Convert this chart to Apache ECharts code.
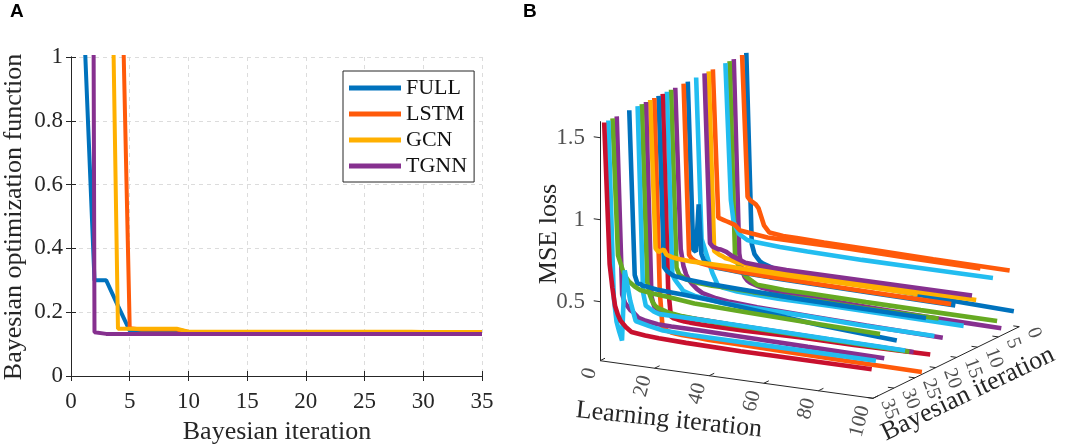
<!DOCTYPE html>
<html><head><meta charset="utf-8">
<script src="https://cdn.jsdelivr.net/npm/echarts@6/dist/echarts.min.js"></script>
<style>html,body{margin:0;padding:0;background:#fff}#c{width:1065px;height:446px}</style>
</head><body><div id="c"></div>
<script>
// ---------- Panel A data ----------
const bayesIter = [1,2,3,4,5,6,7,8,9,10,11,12,13,14,15,16,17,18,19,20,21,22,23,24,25,26,27,28,29,30,31,32,33,34,35];
const fullObj = [1.2,0.30,0.30,0.22,0.142,0.138,0.138,0.138,0.138,0.138,0.138,0.138,0.138,0.138,0.138,0.132,0.132,0.132,0.132,0.132,0.132,0.132,0.132,0.132,0.132,0.132,0.132,0.132,0.132,0.132,0.132,0.132,0.132,0.132,0.132];
const lstmObj = [2.0,2.0,1.95,1.82,0.15,0.146,0.146,0.146,0.146,0.138,0.138,0.138,0.138,0.138,0.138,0.138,0.138,0.138,0.138,0.138,0.138,0.138,0.138,0.138,0.138,0.138,0.138,0.138,0.138,0.138,0.138,0.138,0.138,0.138,0.138];
const gcnObj  = [2.5,2.5,2.45,0.148,0.148,0.148,0.148,0.148,0.148,0.139,0.139,0.139,0.139,0.139,0.139,0.139,0.139,0.139,0.139,0.139,0.139,0.139,0.139,0.139,0.139,0.139,0.139,0.139,0.139,0.138,0.138,0.138,0.138,0.138,0.138];
const tgnnObj = [12,0.137,0.132,0.132,0.132,0.132,0.132,0.132,0.132,0.132,0.132,0.132,0.132,0.132,0.132,0.132,0.132,0.132,0.132,0.132,0.132,0.132,0.132,0.132,0.132,0.132,0.132,0.132,0.132,0.132,0.132,0.132,0.132,0.132,0.132];
const seriesNamesA = ['FULL','LSTM','GCN','TGNN'];
const colorsA = ['#0072BD','#FF5A0A','#FFB000','#86308F'];

// ---------- Panel B data ----------
const learnPts = [0,2,3,4,5,6,8,10,15,20,30,50,70,98];
const curveBayes = [0,1,3,4,5,8,9,10,12,14,15,17,18,19,20,21,22,23,24,25,26,28,31,32,33,34];
const loss_b0  = [1.58,0.42,0.36,0.34,0.32,0.31,0.30,0.29,0.28,0.275,0.27,0.26,0.245,0.23];
const loss_b1  = [1.58,0.72,0.70,0.69,0.68,0.66,0.56,0.52,0.51,0.51,0.505,0.50,0.495,0.49];
const loss_b3  = [1.58,0.40,0.30,0.26,0.24,0.23,0.22,0.21,0.20,0.195,0.19,0.18,0.17,0.163];
const loss_b4  = [1.58,0.40,0.35,0.32,0.30,0.28,0.26,0.24,0.235,0.23,0.23,0.225,0.222,0.22];
const loss_b5  = [1.58,0.75,0.62,0.58,0.55,0.54,0.52,0.515,0.51,0.505,0.50,0.495,0.495,0.495];
const loss_b8  = [1.58,0.68,0.675,0.67,0.665,0.66,0.65,0.62,0.61,0.60,0.60,0.60,0.595,0.59];
const loss_b9  = [1.58,0.49,0.48,0.47,0.465,0.456,0.45,0.44,0.43,0.425,0.42,0.415,0.41,0.41];
const loss_b10 = [1.58,0.55,0.53,0.525,0.52,0.52,0.51,0.49,0.46,0.455,0.45,0.45,0.45,0.45];
const loss_b12 = [1.58,0.60,0.55,0.50,0.45,0.40,0.33,0.32,0.31,0.305,0.30,0.30,0.295,0.29];
const loss_b14 = [1.58,0.56,0.55,0.84,0.54,0.50,0.48,0.47,0.465,0.46,0.455,0.45,0.445,0.44];
const loss_b15 = [1.58,0.54,0.52,0.51,0.505,0.50,0.495,0.49,0.485,0.48,0.475,0.47,0.465,0.46];
const loss_b17 = [1.58,0.60,0.50,0.45,0.42,0.40,0.37,0.35,0.33,0.32,0.31,0.30,0.29,0.28];
const loss_b18 = [1.58,0.50,0.46,0.45,0.44,0.435,0.43,0.425,0.42,0.42,0.415,0.415,0.41,0.41];
const loss_b19 = [1.58,0.47,0.44,0.42,0.40,0.38,0.37,0.36,0.35,0.34,0.335,0.33,0.32,0.316];
const loss_b20 = [1.58,0.40,0.23,0.22,0.218,0.215,0.21,0.208,0.205,0.205,0.205,0.21,0.21,0.215];
const loss_b21 = [1.58,0.54,0.52,0.51,0.50,0.495,0.49,0.485,0.48,0.475,0.47,0.46,0.455,0.45];
const loss_b22 = [1.58,0.40,0.19,0.18,0.17,0.165,0.16,0.158,0.155,0.15,0.148,0.143,0.138,0.134];
const loss_b23 = [1.58,0.68,0.66,0.67,0.68,0.65,0.64,0.635,0.63,0.63,0.63,0.625,0.625,0.62];
const loss_b24 = [1.58,0.40,0.34,0.33,0.32,0.315,0.31,0.305,0.30,0.30,0.295,0.29,0.285,0.28];
const loss_b25 = [1.58,0.50,0.42,0.38,0.36,0.35,0.34,0.33,0.32,0.315,0.31,0.305,0.30,0.295];
const loss_b26 = [1.58,0.45,0.37,0.36,0.35,0.34,0.33,0.33,0.33,0.33,0.33,0.325,0.32,0.315];
const loss_b28 = [1.58,0.58,0.53,0.53,0.52,0.52,0.515,0.51,0.505,0.50,0.49,0.46,0.43,0.40];
const loss_b31 = [1.58,0.50,0.45,0.43,0.41,0.40,0.37,0.36,0.347,0.345,0.344,0.34,0.335,0.33];
const loss_b32 = [1.58,0.75,0.70,0.65,0.62,0.60,0.575,0.557,0.545,0.539,0.52,0.51,0.50,0.49];
const loss_b33 = [1.58,0.50,0.36,0.30,0.25,0.68,0.50,0.38,0.36,0.345,0.34,0.34,0.34,0.34];
const loss_b34 = [1.58,0.72,0.58,0.47,0.42,0.385,0.35,0.325,0.315,0.31,0.305,0.30,0.30,0.30];
const curveLoss = [loss_b0,loss_b1,loss_b3,loss_b4,loss_b5,loss_b8,loss_b9,loss_b10,loss_b12,loss_b14,loss_b15,loss_b17,loss_b18,loss_b19,loss_b20,loss_b21,loss_b22,loss_b23,loss_b24,loss_b25,loss_b26,loss_b28,loss_b31,loss_b32,loss_b33,loss_b34];
const matlabColors = ['#0072BD','#FF5A0A','#FFB000','#86308F','#66AA22','#22BDF0','#C8102E'];
const learnTicks = [0,20,40,60,80,100];
const bayesTicks = [0,5,10,15,20,25,30,35];
const lossTicks = [0.5,1,1.5];
const learnRange = [0,100], bayesRange = [0,35], lossRange = [0.14,1.6];

// ---------- 3-D view (orthographic projection onto the page plane) ----------
const view = {ox:600, oy:360.7, lx:2.73, ly:0.376, bx:4.18, by:-2.046, zs:164};
function proj(L, B, Z) {
  const d = bayesRange[1] - B;
  return [view.ox + view.lx*L + view.bx*d, view.oy + view.ly*L + view.by*d - view.zs*(Z - lossRange[0])];
}
function add(p, dx, dy) { return [p[0]+dx, p[1]+dy]; }

const serif = 'Liberation Serif';
const txt = '#262626';

const series = [];
// Panel A lines
const aData = [fullObj, lstmObj, gcnObj, tgnnObj];
aData.forEach((arr, i) => {
  series.push({
    type:'line', name: seriesNamesA[i], xAxisIndex:0, yAxisIndex:0,
    data: bayesIter.map((x, j) => [x, arr[j]]),
    showSymbol:false, symbol:'none', clip:true, silent:true,
    lineStyle:{width:4, color:colorsA[i]}, itemStyle:{color:colorsA[i]}
  });
});

// Panel B axes lines
const zF = lossRange[0];
const axisSegs = [
  [proj(0, bayesRange[1], zF), proj(0, bayesRange[1], lossRange[1])],
  [proj(learnRange[0], bayesRange[1], zF), proj(learnRange[1], bayesRange[1], zF)],
  [proj(learnRange[1], bayesRange[1], zF), proj(learnRange[1], bayesRange[0], zF)]
];
lossTicks.forEach(z => axisSegs.push([proj(0, bayesRange[1], z), proj(-2.3, bayesRange[1], z)]));
learnTicks.forEach(L => axisSegs.push([proj(L, bayesRange[1], zF), proj(L, bayesRange[1]-1.2, zF)]));
bayesTicks.forEach(b => axisSegs.push([proj(learnRange[1], b, zF), proj(learnRange[1]-2.2, b, zF)]));
series.push({
  type:'lines', coordinateSystem:'cartesian2d', xAxisIndex:2, yAxisIndex:2, silent:true,
  polyline:false, lineStyle:{color:txt, width:1, opacity:1, curveness:0},
  data: axisSegs.map(s => ({coords:s})), z:1
});

// Panel B curves (back to front)
curveBayes.forEach((b, i) => {
  const col = matlabColors[b % 7];
  series.push({
    type:'line', xAxisIndex:2, yAxisIndex:2, silent:true, showSymbol:false, symbol:'none',
    data: learnPts.map((L, j) => proj(L, b, curveLoss[i][j])),
    lineStyle:{width:4.6, color:col}, itemStyle:{color:col}, z:2
  });
});

// Panel B tick labels
function labelSeries(items, labelOpt) {
  return {
    type:'scatter', xAxisIndex:2, yAxisIndex:2, silent:true, symbolSize:1,
    itemStyle:{color:'rgba(0,0,0,0)'}, z:3,
    label: Object.assign({show:true, formatter:'{b}', color:txt, fontFamily:serif}, labelOpt),
    data: items
  };
}
series.push(labelSeries(lossTicks.map(z => ({name:String(z), value:add(proj(0, bayesRange[1], z), -15, 0)})),
  {position:'inside', align:'right', verticalAlign:'middle', fontSize:23}));
series.push(labelSeries(learnTicks.map(L => ({name:String(L), value:add(proj(L, bayesRange[1], zF), -9, 7.8)})),
  {position:'inside', align:'right', verticalAlign:'middle', fontSize:21, rotate:75}));
series.push(labelSeries(bayesTicks.map(b => ({name:String(b), value:add(proj(learnRange[1], b, zF), 13, 1.5)})),
  {position:'inside', align:'left', verticalAlign:'middle', fontSize:20, rotate:-70}));

const axisCommonA = {
  axisLine:{show:true, lineStyle:{color:txt, width:1}},
  axisTick:{show:true, inside:true, length:5, lineStyle:{color:txt}},
};

const option = {
  animation:false,
  backgroundColor:'#fff',
  grid:[
    {left:71, top:57, width:411, height:319},
    {left:0, top:0, width:1065, height:446}
  ],
  xAxis:[
    Object.assign({type:'value', gridIndex:0, min:0, max:35, interval:5, position:'bottom',
      axisLabel:{color:txt, fontFamily:serif, fontSize:23, margin:14},
      splitLine:{show:true, lineStyle:{color:'#dcdcdc', type:[4,4], width:1}}}, axisCommonA),
    Object.assign({type:'value', gridIndex:0, min:0, max:35, interval:5, position:'top',
      axisLabel:{show:false}, splitLine:{show:false}}, axisCommonA),
    {type:'value', gridIndex:1, min:0, max:1065, show:false}
  ],
  yAxis:[
    Object.assign({type:'value', gridIndex:0, min:0, max:1, interval:0.2, position:'left',
      axisLabel:{color:txt, fontFamily:serif, fontSize:23, margin:8},
      splitLine:{show:true, lineStyle:{color:'#dcdcdc', type:[4,4], width:1}}}, axisCommonA),
    Object.assign({type:'value', gridIndex:0, min:0, max:1, interval:0.2, position:'right',
      axisLabel:{show:false}, splitLine:{show:false}}, axisCommonA),
    {type:'value', gridIndex:1, min:0, max:446, inverse:true, show:false}
  ],
  legend:{
    data: seriesNamesA, orient:'vertical', left:343, top:71,
    backgroundColor:'#fff', borderColor:txt, borderWidth:1, padding:[6,7,5,6],
    itemWidth:52, itemHeight:14, itemGap:4,
    textStyle:{fontFamily:serif, fontSize:22, color:'#111', lineHeight:22},
    icon:'path://M0,5 L52,5 L52,10 L0,10 Z'
  },
  graphic:[
    {type:'text', x:10, y:12, style:{text:'A', font:'bold 19px "Liberation Sans"', fill:'#000', verticalAlign:'middle'}},
    {type:'text', x:523, y:12, style:{text:'B', font:'bold 19px "Liberation Sans"', fill:'#000', verticalAlign:'middle'}},
    {type:'text', x:14, y:217, rotation:Math.PI/2, style:{text:'Bayesian optimization function', font:'26px "Liberation Serif"', fill:txt, align:'center', verticalAlign:'middle'}},
    {type:'text', x:277, y:432, style:{text:'Bayesian iteration', font:'26px "Liberation Serif"', fill:txt, align:'center', verticalAlign:'middle'}},
    {type:'text', x:549, y:234, rotation:Math.PI/2, style:{text:'MSE loss', font:'26px "Liberation Serif"', fill:txt, align:'center', verticalAlign:'middle'}},
    {type:'text', x:669, y:420, rotation:-6*Math.PI/180, style:{text:'Learning iteration', font:'26px "Liberation Serif"', fill:txt, align:'center', verticalAlign:'middle'}},
    {type:'text', x:968, y:394, rotation:25.5*Math.PI/180, style:{text:'Bayesian iteration', font:'26px "Liberation Serif"', fill:txt, align:'center', verticalAlign:'middle'}}
  ],
  series: series
};
const chart = echarts.init(document.getElementById('c'), null, {renderer:'canvas'});
chart.setOption(option);
</script>
</body></html>
